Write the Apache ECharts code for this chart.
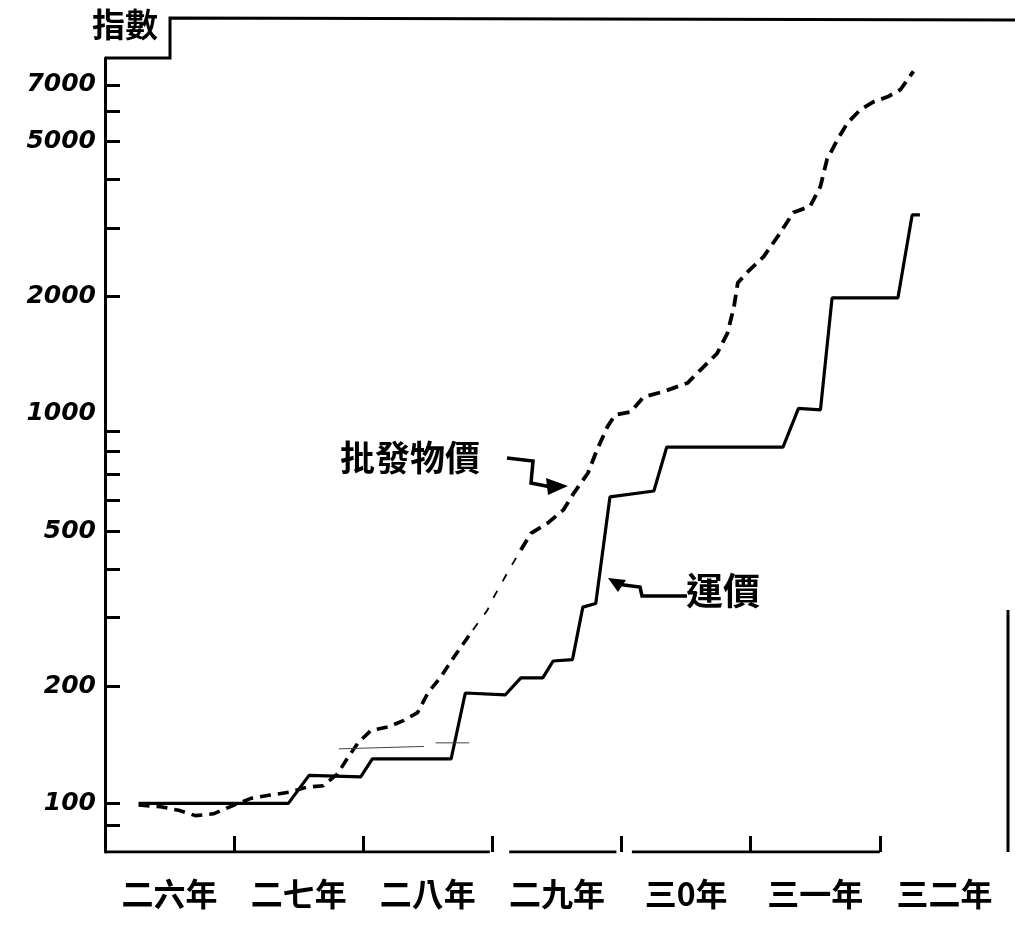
<!DOCTYPE html>
<html><head><meta charset="utf-8">
<script src="https://cdn.jsdelivr.net/npm/echarts@6/dist/echarts.min.js"></script>
<style>html,body{margin:0;padding:0;background:#fff}#c{width:1015px;height:930px}</style>
</head><body><div id="c"></div>
<script>
// x: years elapsed from the start of 二六年
const yearLabels = ['二六年','二七年','二八年','二九年','三0年','三一年','三二年'];
const yearLabelPos = [0.5,1.5,2.5,3.5,4.5,5.5,6.5];
const yearTicks = [0,1,2,3,4,5,6];
const yLabelValues = [100,200,500,1000,2000,5000,7000];
const yTickValues = [88,100,200,300,400,500,600,700,800,900,2000,3000,4000,5000,6000,7000];

// 運價 (freight rates index)
const freightT = [0.26,1.42,1.58,1.98,2.07,2.68,2.79,3.10,3.22,3.39,3.47,3.62,3.70,3.80,3.91,4.25,4.35,5.25,5.37,5.54,5.63,6.14,6.25,6.31];
const freightV = [100,100,118,117,130,130,192,190,210,210,232,234,319,326,612,634,822,822,1033,1024,1986,1986,3242,3242];

// 批發物價 (wholesale price index)
const wholesaleT = [0.26,0.43,0.57,0.70,0.84,1.00,1.13,1.28,1.44,1.56,1.69,1.80,1.88,1.96,2.06,2.19,2.31,2.42,2.50,2.60,2.70,2.85,2.96,3.02,3.14,3.22,3.30,3.43,3.55,3.63,3.74,3.81,3.89,3.95,4.07,4.17,4.32,4.51,4.61,4.74,4.82,4.87,4.90,4.97,5.10,5.23,5.33,5.46,5.54,5.59,5.67,5.75,5.85,5.95,6.06,6.16,6.26];
const wholesaleV = [99,98,96,93,94,99,103,105,107,110,111,119,131,143,154,157,163,171,192,211,237,279,313,343,404,447,494,525,567,626,705,809,926,994,1012,1105,1140,1200,1296,1430,1612,1881,2170,2305,2534,2921,3290,3411,3841,4491,5050,5589,6044,6325,6518,6806,7578];

// faint hand-ruled line near 二八年
const strayT = [1.81,2.47,null,2.56,2.82];
const strayV = [138,140,null,143,143];

// baseline segments of the hand-drawn x axis (with its small breaks)
const baselineT = [0,2.98,null,3.13,3.96,null,4.08,6];

const yMin = 75, yMax = 8200;

const pairs = (ts, vs) => ts.map((t, i) => (t === null ? null : [t, vs[i]]));
const wholesale = pairs(wholesaleT, wholesaleV);
const iThinA = wholesaleT.indexOf(2.85), iThinB = wholesaleT.indexOf(3.22);

const chart = echarts.init(document.getElementById('c'), null, {renderer: 'canvas'});
const blk = '#000';
const dashStyle = (w, d) => ({color: blk, width: w, type: d});

chart.setOption({
  backgroundColor: '#fff',
  animation: false,
  grid: {left: 105, right: 6, top: 58, bottom: 78},
  xAxis: {
    type: 'value', min: 0, max: 7,
    splitLine: {show: false},
    axisLine: {show: false},
    axisTick: {show: true, inside: true, length: 16, customValues: yearTicks,
               lineStyle: {color: blk, width: 3}},
    axisLabel: {customValues: yearLabelPos, margin: 26,
      formatter: v => yearLabels[Math.round(v - 0.5)],
      color: blk, fontSize: 32, fontWeight: 'bold', fontFamily: 'Noto Sans CJK TC'}
  },
  yAxis: {
    type: 'log', min: yMin, max: yMax,
    splitLine: {show: false},
    axisLine: {show: true, lineStyle: {color: blk, width: 3}},
    axisTick: {show: true, inside: true, length: 15, customValues: yTickValues,
               lineStyle: {color: blk, width: 3}},
    axisLabel: {customValues: yLabelValues, margin: 9,
      formatter: v => String(Math.round(v)),
      color: blk, fontSize: 25, fontStyle: 'italic', fontWeight: 'bold',
      fontFamily: 'DejaVu Sans'}
  },
  series: [
    {name: 'baseline', type: 'line', symbol: 'none', silent: true, connectNulls: false,
     data: baselineT.map(t => (t === null ? null : [t, yMin])),
     lineStyle: {color: blk, width: 3}},
    {name: '運價', type: 'line', symbol: 'none',
     data: pairs(freightT, freightV), lineStyle: {color: blk, width: 3.2}},
    {name: '批發物價', type: 'line', symbol: 'none',
     data: wholesale.slice(0, iThinA + 1), lineStyle: dashStyle(3.6, [11, 7])},
    {name: '批發物價', type: 'line', symbol: 'none',
     data: wholesale.slice(iThinA, iThinB + 1), lineStyle: dashStyle(1.8, [8, 11])},
    {name: '批發物價', type: 'line', symbol: 'none',
     data: wholesale.slice(iThinB), lineStyle: dashStyle(3.8, [12, 7])},
    {name: 'stray', type: 'line', symbol: 'none', connectNulls: false,
     data: pairs(strayT, strayV), lineStyle: {color: '#444', width: 1}}
  ],
  graphic: [
    {type: 'text', left: 92, top: 8, style: {text: '指數', fill: blk, fontSize: 33,
      fontWeight: 'bold', fontFamily: 'Noto Sans CJK TC'}},
    {type: 'polyline', shape: {points: [[105, 58], [170, 58], [170, 18], [1015, 20]]},
     style: {stroke: blk, lineWidth: 3, fill: null}},
    {type: 'line', shape: {x1: 1008, y1: 610, x2: 1008, y2: 852},
     style: {stroke: blk, lineWidth: 3}},
    {type: 'text', left: 340, top: 440, style: {text: '批發物價', fill: blk, fontSize: 35,
      fontWeight: 'bold', fontFamily: 'Noto Sans CJK TC'}},
    {type: 'polyline', shape: {points: [[507, 458], [533, 461], [531, 483], [556, 488]]},
     style: {stroke: blk, lineWidth: 3.5, fill: null}},
    {type: 'polygon', shape: {points: [[546, 478], [568, 486], [548, 495]]},
     style: {fill: blk}},
    {type: 'text', left: 686, top: 572, style: {text: '運價', fill: blk, fontSize: 37,
      fontWeight: 'bold', fontFamily: 'Noto Sans CJK TC'}},
    {type: 'polyline', shape: {points: [[616, 584], [640, 587], [642, 596], [687, 596]]},
     style: {stroke: blk, lineWidth: 3.5, fill: null}},
    {type: 'polygon', shape: {points: [[608, 578], [626, 580], [618, 592]]},
     style: {fill: blk}}
  ]
});
</script></body></html>
